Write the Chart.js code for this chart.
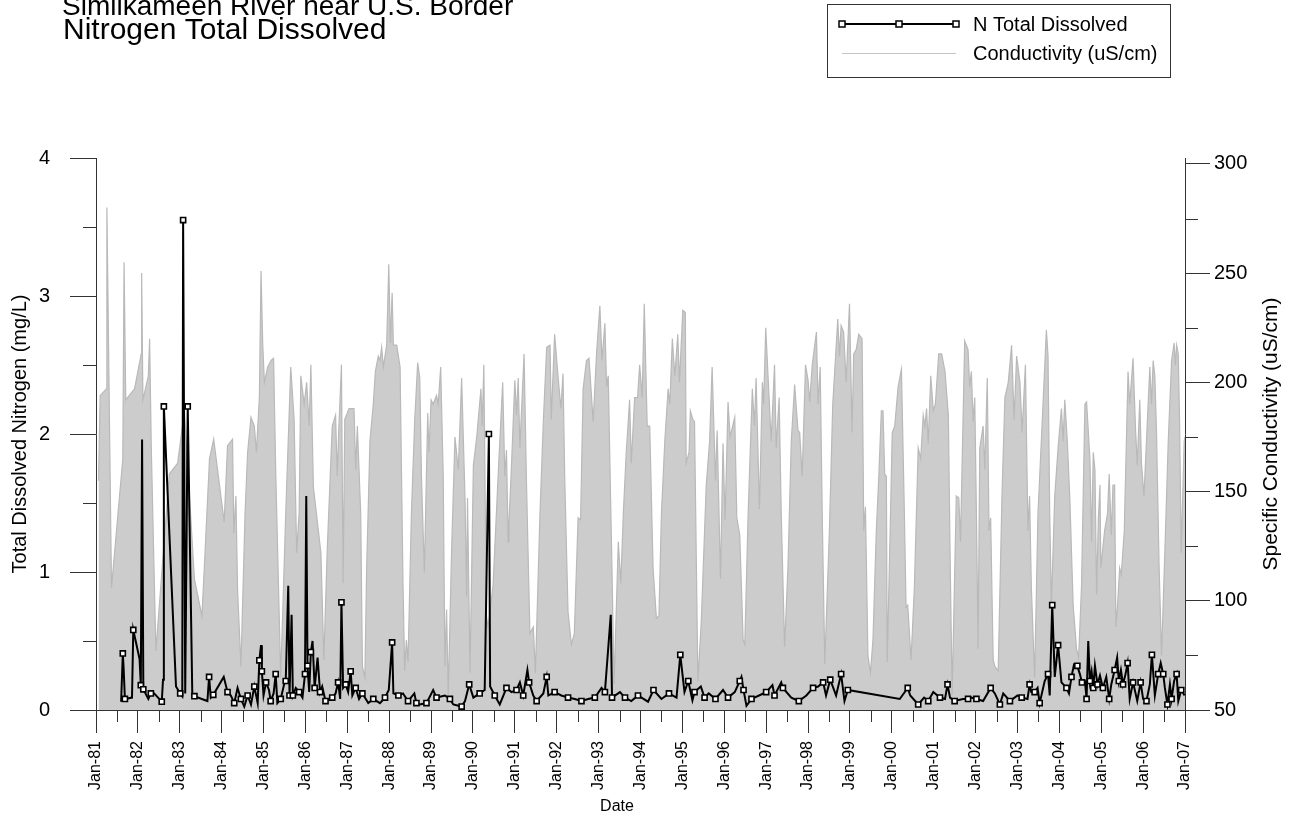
<!DOCTYPE html>
<html>
<head>
<meta charset="utf-8">
<script src="https://cdn.jsdelivr.net/npm/chart.js@4.4.0/dist/chart.umd.min.js"></script>
<style>
    html, body { margin: 0; padding: 0; background: #fff; }
    canvas { display: block; }
</style>
</head>
<body>
<canvas id="myChart" width="1298" height="818"></canvas>
<script>
const FONT = "'Liberation Sans', Arial, sans-serif";

const titleText = 'Similkameen River near U.S. Border';
const subtitleText = 'Nitrogen Total Dissolved';
const leftAxisTitle = 'Total Dissolved Nitrogen (mg/L)';
const rightAxisTitle = 'Specific Conductivity (uS/cm)';
const xAxisTitle = 'Date';
const seriesNames = ['N Total Dissolved', 'Conductivity (uS/cm)'];
const condTicks = [50, 100, 150, 200, 250, 300];

// conductivity (uS/cm), sample dates as decimal years
const condYear = [
    1981.06, 1981.10, 1981.25, 1981.26, 1981.37, 1981.64, 1981.67, 1981.71, 1981.92, 1982.08, 1982.09, 1982.12,
    1982.25, 1982.28, 1982.32, 1982.43, 1982.75, 1982.95, 1983.11, 1983.35, 1983.53, 1983.71, 1983.81, 1984.06,
    1984.14, 1984.26, 1984.29, 1984.34, 1984.38, 1984.46, 1984.56, 1984.62, 1984.70, 1984.78, 1984.83, 1984.90,
    1984.94, 1984.98, 1985.02, 1985.10, 1985.18, 1985.24, 1985.29, 1985.41, 1985.53, 1985.65, 1985.73, 1985.79,
    1985.85, 1985.89, 1985.97, 1986.03, 1986.09, 1986.13, 1986.19, 1986.37, 1986.44, 1986.52, 1986.64, 1986.72,
    1986.76, 1986.80, 1986.86, 1986.90, 1986.94, 1987.04, 1987.16, 1987.20, 1987.24, 1987.32, 1987.36, 1987.42,
    1987.46, 1987.54, 1987.62, 1987.67, 1987.74, 1987.78, 1987.82, 1987.86, 1987.94, 1987.99, 1988.03, 1988.07,
    1988.10, 1988.18, 1988.26, 1988.33, 1988.37, 1988.41, 1988.45, 1988.53, 1988.61, 1988.68, 1988.73, 1988.77,
    1988.84, 1988.92, 1988.95, 1989.00, 1989.05, 1989.13, 1989.17, 1989.23, 1989.29, 1989.33, 1989.37, 1989.41,
    1989.49, 1989.57, 1989.65, 1989.73, 1989.81, 1989.85, 1989.87, 1989.93, 1990.01, 1990.09, 1990.19, 1990.22,
    1990.26, 1990.32, 1990.36, 1990.48, 1990.60, 1990.71, 1990.76, 1990.80, 1990.84, 1990.86, 1990.92, 1991.00,
    1991.04, 1991.08, 1991.12, 1991.22, 1991.28, 1991.36, 1991.44, 1991.49, 1991.60, 1991.68, 1991.76, 1991.84,
    1991.87, 1991.95, 1992.03, 1992.10, 1992.15, 1992.19, 1992.27, 1992.35, 1992.42, 1992.51, 1992.57, 1992.63,
    1992.71, 1992.77, 1992.87, 1992.95, 1993.03, 1993.08, 1993.15, 1993.19, 1993.23, 1993.31, 1993.37, 1993.47,
    1993.53, 1993.59, 1993.66, 1993.74, 1993.78, 1993.86, 1993.93, 1993.98, 1994.04, 1994.09, 1994.16, 1994.22,
    1994.30, 1994.38, 1994.44, 1994.50, 1994.58, 1994.66, 1994.70, 1994.76, 1994.82, 1994.89, 1994.93, 1995.01,
    1995.07, 1995.09, 1995.16, 1995.19, 1995.25, 1995.29, 1995.37, 1995.45, 1995.57, 1995.65, 1995.71, 1995.79,
    1995.83, 1995.91, 1995.97, 1996.02, 1996.09, 1996.14, 1996.25, 1996.30, 1996.37, 1996.45, 1996.49, 1996.57,
    1996.67, 1996.72, 1996.76, 1996.84, 1996.91, 1996.94, 1996.99, 1997.04, 1997.12, 1997.20, 1997.24, 1997.31,
    1997.36, 1997.44, 1997.52, 1997.60, 1997.68, 1997.76, 1997.80, 1997.86, 1997.94, 1998.00, 1998.04, 1998.10,
    1998.20, 1998.24, 1998.29, 1998.34, 1998.40, 1998.51, 1998.59, 1998.71, 1998.75, 1998.79, 1998.85, 1998.91,
    1998.99, 1999.05, 1999.09, 1999.15, 1999.21, 1999.29, 1999.33, 1999.37, 1999.43, 1999.49, 1999.55, 1999.63,
    1999.69, 1999.75, 1999.79, 1999.83, 1999.87, 1999.89, 1999.95, 2000.01, 2000.07, 2000.15, 2000.23, 2000.30,
    2000.34, 2000.38, 2000.46, 2000.54, 2000.63, 2000.69, 2000.75, 2000.79, 2000.83, 2000.87, 2000.93, 2000.99,
    2001.04, 2001.12, 2001.19, 2001.27, 2001.35, 2001.39, 2001.44, 2001.54, 2001.60, 2001.64, 2001.74, 2001.82,
    2001.86, 2001.90, 2001.94, 2001.98, 2002.02, 2002.06, 2002.10, 2002.18, 2002.22, 2002.28, 2002.32, 2002.36,
    2002.42, 2002.46, 2002.54, 2002.63, 2002.70, 2002.78, 2002.86, 2002.92, 2002.98, 2003.06, 2003.11, 2003.19,
    2003.25, 2003.29, 2003.33, 2003.41, 2003.49, 2003.61, 2003.69, 2003.73, 2003.77, 2003.81, 2003.89, 2003.97,
    2004.05, 2004.09, 2004.13, 2004.19, 2004.25, 2004.33, 2004.41, 2004.46, 2004.53, 2004.61, 2004.65, 2004.73,
    2004.77, 2004.81, 2004.85, 2004.89, 2004.93, 2004.97, 2004.99, 2005.08, 2005.15, 2005.19, 2005.24, 2005.28,
    2005.32, 2005.35, 2005.39, 2005.44, 2005.48, 2005.55, 2005.64, 2005.68, 2005.76, 2005.82, 2005.86, 2005.92,
    2005.96, 2006.02, 2006.08, 2006.16, 2006.20, 2006.24, 2006.28, 2006.32, 2006.38, 2006.44, 2006.52, 2006.60,
    2006.68, 2006.74, 2006.77, 2006.80, 2006.84, 2006.87, 2006.91, 2006.98, 2007.00
];
const condValue = [
    155, 194, 197, 280, 106, 165, 255, 192, 197, 213, 250, 192,
    203, 220, 170, 77, 158, 163, 187, 110, 93, 165, 174, 136,
    171, 174, 131, 148, 105, 70, 141, 168, 184, 180, 168, 193,
    251, 218, 200, 207, 210, 211, 160, 65, 140, 207, 183, 122,
    140, 203, 190, 200, 180, 208, 152, 122, 73, 123, 180, 185,
    157, 180, 208, 108, 183, 188, 188, 160, 180, 140, 70, 65,
    113, 173, 190, 205, 212, 210, 216, 207, 217, 254, 218, 241,
    217, 217, 207, 107, 68, 82, 72, 140, 183, 209, 202, 157,
    113, 186, 168, 192, 190, 194, 190, 207, 157, 70, 96, 57,
    123, 175, 160, 202, 147, 102, 147, 67, 162, 175, 197, 180,
    208, 93, 88, 107, 157, 200, 157, 169, 127, 136, 162, 201,
    185, 202, 170, 213, 152, 85, 88, 67, 140, 182, 216, 217,
    183, 222, 203, 188, 204, 157, 95, 80, 85, 138, 137, 197,
    210, 211, 182, 213, 235, 210, 227, 198, 203, 123, 62, 127,
    108, 140, 168, 192, 163, 193, 193, 208, 193, 236, 180, 180,
    115, 92, 93, 140, 173, 197, 190, 220, 203, 222, 200, 233,
    232, 163, 168, 187, 183, 182, 63, 90, 153, 173, 207, 155,
    178, 110, 172, 137, 191, 175, 184, 138, 130, 82, 80, 140,
    197, 180, 202, 142, 200, 190, 225, 205, 173, 208, 170, 193,
    140, 79, 115, 173, 199, 178, 177, 157, 208, 201, 191, 208,
    223, 190, 207, 138, 71, 132, 190, 229, 212, 226, 223, 200,
    236, 177, 213, 215, 222, 220, 132, 143, 75, 67, 82, 132,
    157, 187, 187, 158, 157, 72, 123, 177, 180, 198, 206, 140,
    97, 98, 73, 107, 170, 165, 185, 180, 188, 172, 203, 187,
    190, 213, 213, 205, 185, 123, 57, 148, 147, 127, 219, 215,
    198, 205, 182, 193, 140, 78, 170, 180, 160, 202, 132, 138,
    73, 70, 68, 148, 193, 200, 217, 183, 212, 200, 177, 208,
    132, 148, 107, 65, 140, 190, 224, 212, 140, 98, 148, 170,
    188, 173, 192, 173, 147, 98, 78, 74, 107, 190, 191, 165,
    127, 168, 160, 103, 137, 153, 115, 132, 140, 158, 130, 153,
    153, 88, 98, 115, 112, 132, 205, 190, 211, 178, 162, 192,
    163, 148, 173, 207, 190, 210, 203, 177, 117, 75, 123, 173,
    210, 218, 208, 217, 213, 182, 122, 173, 175
];

// total dissolved nitrogen (mg/L)
const nYear = [
    1981.60, 1981.64, 1981.66, 1981.69, 1981.86, 1981.89, 1982.04, 1982.07, 1982.10, 1982.13, 1982.25, 1982.31,
    1982.39, 1982.57, 1982.60, 1982.62, 1982.91, 1983.01, 1983.06, 1983.08, 1983.13, 1983.19, 1983.30, 1983.35,
    1983.66, 1983.70, 1983.74, 1983.80, 1984.05, 1984.14, 1984.22, 1984.30, 1984.38, 1984.46, 1984.54, 1984.62,
    1984.70, 1984.78, 1984.86, 1984.90, 1984.94, 1984.96, 1985.00, 1985.06, 1985.13, 1985.17, 1985.24, 1985.29,
    1985.33, 1985.41, 1985.49, 1985.53, 1985.59, 1985.62, 1985.67, 1985.70, 1985.77, 1985.85, 1985.93, 1985.99,
    1986.02, 1986.05, 1986.09, 1986.13, 1986.17, 1986.22, 1986.29, 1986.35, 1986.40, 1986.48, 1986.56, 1986.64,
    1986.72, 1986.78, 1986.83, 1986.86, 1986.90, 1986.96, 1987.02, 1987.08, 1987.12, 1987.20, 1987.28, 1987.36,
    1987.50, 1987.62, 1987.78, 1987.90, 1987.99, 1988.07, 1988.10, 1988.22, 1988.33, 1988.45, 1988.60, 1988.65,
    1988.73, 1988.89, 1989.05, 1989.13, 1989.33, 1989.45, 1989.53, 1989.73, 1989.81, 1989.91, 1990.01, 1990.16,
    1990.28, 1990.38, 1990.41, 1990.52, 1990.64, 1990.80, 1990.92, 1991.04, 1991.12, 1991.20, 1991.30, 1991.34,
    1991.44, 1991.52, 1991.68, 1991.76, 1991.80, 1991.95, 1992.11, 1992.27, 1992.43, 1992.59, 1992.75, 1992.91,
    1993.07, 1993.15, 1993.29, 1993.32, 1993.51, 1993.63, 1993.78, 1993.94, 1994.18, 1994.31, 1994.50, 1994.68,
    1994.86, 1994.95, 1995.05, 1995.14, 1995.24, 1995.29, 1995.44, 1995.53, 1995.63, 1995.79, 1995.97, 1996.09,
    1996.25, 1996.37, 1996.41, 1996.46, 1996.53, 1996.65, 1996.83, 1997.00, 1997.15, 1997.20, 1997.36, 1997.40,
    1997.60, 1997.78, 1997.96, 1998.12, 1998.24, 1998.36, 1998.43, 1998.53, 1998.67, 1998.79, 1998.87, 1998.95,
    2000.19, 2000.38, 2000.44, 2000.63, 2000.77, 2000.87, 2000.99, 2001.15, 2001.27, 2001.33, 2001.39, 2001.50,
    2001.70, 2001.82, 2001.90, 2002.02, 2002.18, 2002.36, 2002.46, 2002.58, 2002.66, 2002.82, 2003.00, 2003.10,
    2003.24, 2003.29, 2003.33, 2003.41, 2003.48, 2003.53, 2003.65, 2003.73, 2003.77, 2003.83, 2003.89, 2003.97,
    2004.05, 2004.17, 2004.23, 2004.29, 2004.35, 2004.43, 2004.49, 2004.54, 2004.61, 2004.65, 2004.69, 2004.73,
    2004.77, 2004.81, 2004.85, 2004.91, 2004.97, 2005.04, 2005.12, 2005.19, 2005.24, 2005.32, 2005.38, 2005.42,
    2005.47, 2005.52, 2005.58, 2005.63, 2005.68, 2005.76, 2005.86, 2005.94, 2006.00, 2006.08, 2006.16, 2006.21,
    2006.28, 2006.36, 2006.42, 2006.48, 2006.52, 2006.58, 2006.64, 2006.68, 2006.74, 2006.80, 2006.84, 2006.91,
    2006.99
];
const nValue = [
    0.06, 0.41, 0.30, 0.08, 0.09, 0.58, 0.37, 0.18, 1.96, 0.15, 0.08, 0.12,
    0.12, 0.06, 0.22, 2.20, 0.17, 0.12, 0.10, 3.55, 0.12, 2.20, 0.10, 0.10,
    0.065, 0.24, 0.09, 0.11, 0.24, 0.13, 0.105, 0.05, 0.16, 0.08, 0.025, 0.105,
    0.04, 0.17, 0.05, 0.36, 0.47, 0.28, 0.105, 0.20, 0.145, 0.065, 0.12, 0.26,
    0.05, 0.08, 0.185, 0.21, 0.90, 0.105, 0.69, 0.105, 0.16, 0.13, 0.09, 0.26,
    1.55, 0.32, 0.13, 0.42, 0.50, 0.16, 0.38, 0.13, 0.17, 0.065, 0.08, 0.09,
    0.12, 0.20, 0.08, 0.78, 0.16, 0.185, 0.13, 0.28, 0.105, 0.16, 0.08, 0.12,
    0.05, 0.08, 0.05, 0.09, 0.145, 0.49, 0.12, 0.105, 0.12, 0.065, 0.12, 0.05,
    0.04, 0.05, 0.145, 0.09, 0.105, 0.08, 0.04, 0.025, 0.065, 0.185, 0.09, 0.12,
    0.145, 2.00, 0.17, 0.105, 0.04, 0.16, 0.13, 0.145, 0.20, 0.105, 0.29, 0.20,
    0.105, 0.065, 0.12, 0.24, 0.105, 0.13, 0.105, 0.09, 0.08, 0.065, 0.08, 0.09,
    0.16, 0.13, 0.69, 0.09, 0.13, 0.09, 0.065, 0.105, 0.06, 0.145, 0.08, 0.12,
    0.09, 0.40, 0.13, 0.21, 0.07, 0.13, 0.17, 0.09, 0.12, 0.08, 0.145, 0.09,
    0.13, 0.21, 0.24, 0.145, 0.03, 0.08, 0.105, 0.13, 0.18, 0.105, 0.20, 0.16,
    0.09, 0.065, 0.105, 0.16, 0.17, 0.20, 0.105, 0.22, 0.105, 0.26, 0.065, 0.145,
    0.08, 0.16, 0.105, 0.04, 0.09, 0.065, 0.13, 0.09, 0.08, 0.185, 0.09, 0.065,
    0.08, 0.08, 0.09, 0.08, 0.065, 0.16, 0.12, 0.04, 0.12, 0.065, 0.105, 0.09,
    0.08, 0.185, 0.13, 0.13, 0.16, 0.05, 0.21, 0.26, 0.105, 0.76, 0.24, 0.47,
    0.20, 0.16, 0.12, 0.24, 0.33, 0.32, 0.26, 0.20, 0.21, 0.08, 0.50, 0.21,
    0.28, 0.16, 0.32, 0.185, 0.25, 0.16, 0.24, 0.08, 0.185, 0.29, 0.38, 0.21,
    0.29, 0.185, 0.26, 0.34, 0.08, 0.20, 0.065, 0.20, 0.08, 0.065, 0.185, 0.40,
    0.105, 0.26, 0.34, 0.26, 0.16, 0.04, 0.185, 0.08, 0.21, 0.26, 0.065, 0.145,
    0.105
];

function yearLabel(v) {
    return 'Jan-' + String(v % 100).padStart(2, '0');
}

// minor ticks, titles and the boxed legend
const decorPlugin = {
    id: 'decor',
    afterDraw(chart) {
        const ctx = chart.ctx;
        const area = chart.chartArea;
        const x = chart.scales.x;
        const y = chart.scales.y;
        const y2 = chart.scales.y2;

        ctx.save();
        ctx.strokeStyle = '#333';
        ctx.lineWidth = 1;
        ctx.beginPath();
        for (let v = 1981.5; v < 2007; v += 1) {
            const px = Math.round(x.getPixelForValue(v)) + 0.5;
            ctx.moveTo(px, area.bottom);
            ctx.lineTo(px, area.bottom + 12);
        }
        for (let v = 0.5; v < 4; v += 1) {
            const py = Math.round(y.getPixelForValue(v)) + 0.5;
            ctx.moveTo(area.left - 13, py);
            ctx.lineTo(area.left, py);
        }
        for (let v = 75; v < 300; v += 50) {
            const py = Math.round(y2.getPixelForValue(v)) + 0.5;
            ctx.moveTo(area.right, py);
            ctx.lineTo(area.right + 13, py);
        }
        ctx.stroke();

        ctx.fillStyle = '#000';
        ctx.textBaseline = 'alphabetic';
        ctx.textAlign = 'left';
        ctx.font = '28px ' + FONT;
        ctx.fillText(titleText, 62, 15);
        ctx.font = '30px ' + FONT;
        ctx.fillText(subtitleText, 63, 39);

        ctx.textAlign = 'center';
        ctx.textBaseline = 'middle';
        ctx.font = '20px ' + FONT;
        ctx.save();
        ctx.translate(20, (area.top + area.bottom) / 2);
        ctx.rotate(-Math.PI / 2);
        ctx.fillText(leftAxisTitle, 0, 0);
        ctx.restore();
        ctx.font = '21px ' + FONT;
        ctx.save();
        ctx.translate(1271, (area.top + area.bottom) / 2);
        ctx.rotate(-Math.PI / 2);
        ctx.fillText(rightAxisTitle, 0, 0);
        ctx.restore();
        ctx.font = '16px ' + FONT;
        ctx.fillText(xAxisTitle, 617, 807);

        // legend box
        const n = chart.data.datasets[0];
        ctx.strokeStyle = '#333';
        ctx.lineWidth = 1;
        ctx.strokeRect(827.5, 4.5, 343, 73);
        ctx.strokeStyle = n.borderColor;
        ctx.lineWidth = n.borderWidth;
        ctx.beginPath();
        ctx.moveTo(842, 24);
        ctx.lineTo(956, 24);
        ctx.stroke();
        ctx.lineWidth = 1.5;
        [842, 899, 956].forEach(px => {
            ctx.fillStyle = '#fff';
            ctx.fillRect(px - 3, 21, 6, 6);
            ctx.strokeRect(px - 3, 21, 6, 6);
        });
        ctx.strokeStyle = '#c4c4c4';
        ctx.lineWidth = 1;
        ctx.beginPath();
        ctx.moveTo(842, 53.5);
        ctx.lineTo(956, 53.5);
        ctx.stroke();
        ctx.fillStyle = '#000';
        ctx.font = '20px ' + FONT;
        ctx.textAlign = 'left';
        ctx.fillText(seriesNames[0], 973, 25);
        ctx.fillText(seriesNames[1], 973, 54);
        ctx.restore();
    }
};

const nPoints = nYear.map((t, i) => ({ x: t, y: nValue[i] }));
const condPoints = condYear.map((t, i) => ({ x: t, y: condValue[i] }));

const ctx = document.getElementById('myChart').getContext('2d');
const chart = new Chart(ctx, {
    type: 'line',
    data: {
        datasets: [
            {
                label: seriesNames[0],
                data: nPoints,
                yAxisID: 'y',
                borderColor: '#000',
                borderWidth: 2,
                pointStyle: 'rect',
                pointRadius: c => (c.dataIndex % 2 === 1 ? 3.6 : 0),
                pointBackgroundColor: '#fff',
                pointBorderColor: '#000',
                pointBorderWidth: 1.6,
                tension: 0,
                order: 1
            },
            {
                label: seriesNames[1],
                data: condPoints,
                yAxisID: 'y2',
                borderColor: '#b9b9b9',
                borderWidth: 1.2,
                backgroundColor: '#cccccc',
                fill: 'start',
                pointRadius: 0,
                tension: 0,
                order: 2
            }
        ]
    },
    options: {
        responsive: false,
        animation: false,
        devicePixelRatio: 1,
        layout: { padding: { top: 158, left: 0, right: 0, bottom: 0 } },
        plugins: {
            legend: { display: false },
            tooltip: { enabled: false }
        },
        scales: {
            x: {
                type: 'linear',
                min: 1981,
                max: 2007,
                afterFit: s => { s.height = 108; },
                grid: { drawOnChartArea: false, tickLength: 23, tickColor: '#333' },
                border: { color: '#333' },
                ticks: {
                    stepSize: 1,
                    autoSkip: false,
                    minRotation: 90,
                    maxRotation: 90,
                    padding: 8,
                    color: '#000',
                    font: { family: FONT, size: 16 },
                    callback: yearLabel
                }
            },
            y: {
                position: 'left',
                min: 0,
                max: 4,
                afterFit: s => { s.width = 96; },
                grid: { drawOnChartArea: false, tickLength: 26, tickColor: '#333' },
                border: { color: '#333' },
                ticks: {
                    stepSize: 1,
                    padding: 20,
                    color: '#000',
                    font: { family: FONT, size: 20 }
                }
            },
            y2: {
                position: 'right',
                min: 50,
                max: 302.7,
                afterFit: s => { s.width = 113; },
                afterBuildTicks: s => { s.ticks = condTicks.map(v => ({ value: v })); },
                grid: { drawOnChartArea: false, tickLength: 25, tickColor: '#333' },
                border: { color: '#333' },
                ticks: {
                    padding: 4,
                    color: '#000',
                    font: { family: FONT, size: 20 }
                }
            }
        }
    },
    plugins: [decorPlugin]
});
</script>
</body>
</html>
